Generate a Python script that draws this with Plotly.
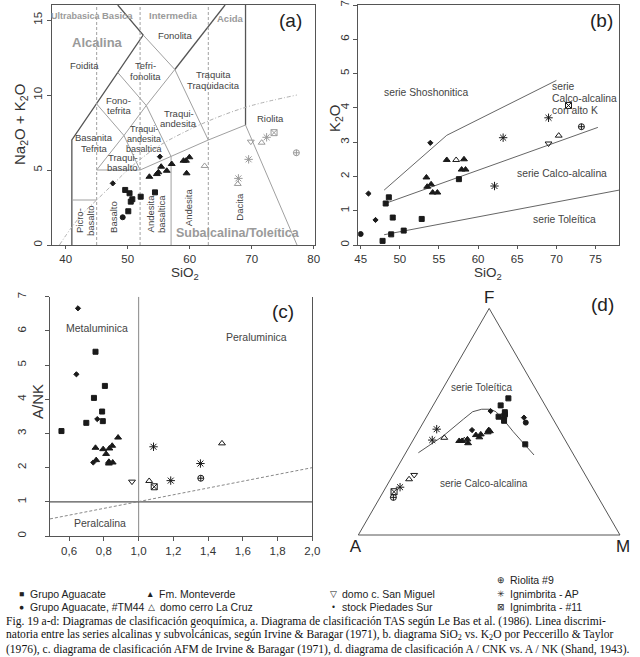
import plotly.graph_objects as go

W, H = 640, 657

# ---------------- (a) TAS diagram data ----------------
tas_aguacate_sio2 = [49.6, 50.3, 50.75, 50.5, 50.1, 52.1, 54.4]
tas_aguacate_alk = [3.67, 3.45, 3.05, 2.89, 2.25, 3.22, 3.51]
tas_tm44_sio2 = [49.2]
tas_tm44_alk = [1.85]
tas_monteverde_sio2 = [53.5, 54.7, 54.95, 55.4, 56.3, 57.1, 59.0, 59.4, 59.95, 59.5]
tas_monteverde_alk = [4.55, 4.73, 4.85, 5.22, 4.95, 5.4, 5.62, 5.62, 5.85, 4.78]
tas_lacruz_sio2 = [62.4, 71.6, 67.75]
tas_lacruz_alk = [5.27, 6.82, 4.07]
tas_sanmiguel_sio2 = [69.85]
tas_sanmiguel_alk = [6.89]
tas_piedades_sio2 = [47.6, 55.2]
tas_piedades_alk = [4.11, 5.89]
tas_riolita_sio2 = [77.2]
tas_riolita_alk = [6.15]
tas_ignap_sio2 = [72.4, 69.5, 67.85]
tas_ignap_alk = [7.18, 5.71, 4.44]
tas_ign11_sio2 = [73.6]
tas_ign11_alk = [7.49]

# ---------------- (b) SiO2 vs K2O data ----------------
k_aguacate_sio2 = [47.8, 48.2, 48.6, 48.9, 49.1, 50.5, 52.8, 57.55]
k_aguacate_k2o = [0.12, 1.21, 1.39, 0.31, 0.80, 0.42, 0.76, 1.92]
k_tm44_sio2 = [45.0]
k_tm44_k2o = [0.32]
k_piedades_sio2 = [46.0, 46.9, 53.9]
k_piedades_k2o = [1.50, 0.73, 2.98]
k_monteverde_sio2 = [53.4, 53.5, 54.0, 54.2, 54.8, 56.0, 58.2, 57.9, 58.4]
k_monteverde_k2o = [1.97, 1.70, 1.77, 1.53, 1.53, 2.48, 2.50, 2.20, 2.20]
k_lacruz_sio2 = [57.2, 70.3]
k_lacruz_k2o = [2.48, 3.19]
k_sanmiguel_sio2 = [69.0]
k_sanmiguel_k2o = [2.96]
k_ignap_sio2 = [62.1, 63.2, 69.0]
k_ignap_k2o = [1.72, 3.13, 3.71]
k_ign11_sio2 = [71.55]
k_ign11_k2o = [4.07]
k_riolita_sio2 = [73.2]
k_riolita_k2o = [3.45]

# ---------------- (c) A/CNK vs A/NK data ----------------
s_aguacate_acnk = [0.752, 0.806, 0.743, 0.790, 0.794, 0.699, 0.556]
s_aguacate_ank = [5.39, 4.39, 4.04, 3.64, 3.36, 3.31, 3.07]
s_piedades_acnk = [0.651, 0.642, 0.762, 0.739]
s_piedades_ank = [6.66, 4.73, 3.42, 2.15]
s_monteverde_acnk = [0.882, 0.752, 0.796, 0.832, 0.848, 0.813, 0.756, 0.829, 0.851, 0.829]
s_monteverde_ank = [2.88, 2.58, 2.54, 2.56, 2.64, 2.40, 2.22, 2.17, 2.15, 2.12]
s_sanmiguel_acnk = [0.962]
s_sanmiguel_ank = [1.59]
s_lacruz_acnk = [1.061, 1.48]
s_lacruz_ank = [1.61, 2.71]
s_ign11_acnk = [1.09]
s_ign11_ank = [1.44]
s_ignap_acnk = [1.086, 1.185, 1.356]
s_ignap_ank = [2.61, 1.62, 2.12]
s_riolita_acnk = [1.358]
s_riolita_ank = [1.69]

# ---------------- (d) AFM data (F, A, M) ----------------
afm_aguacate_f = [0.603, 0.572, 0.542, 0.533, 0.525, 0.522, 0.504, 0.400]
afm_aguacate_a = [0.125, 0.170, 0.169, 0.173, 0.180, 0.203, 0.191, 0.162]
afm_aguacate_m = [0.272, 0.258, 0.289, 0.294, 0.295, 0.275, 0.305, 0.438]
afm_piedades_f = [0.547, 0.463, 0.518]
afm_piedades_a = [0.221, 0.334, 0.108]
afm_piedades_m = [0.232, 0.203, 0.374]
afm_tm44_f = [0.496]
afm_tm44_a = [0.112]
afm_tm44_m = [0.392]
afm_monteverde_f = [0.458, 0.453, 0.463, 0.444, 0.441, 0.431, 0.422, 0.415, 0.415, 0.405]
afm_monteverde_a = [0.268, 0.279, 0.270, 0.310, 0.330, 0.322, 0.372, 0.396, 0.407, 0.378]
afm_monteverde_m = [0.274, 0.268, 0.267, 0.246, 0.229, 0.247, 0.206, 0.189, 0.178, 0.217]
afm_lacruz_f = [0.418, 0.429, 0.246]
afm_lacruz_a = [0.386, 0.457, 0.683]
afm_lacruz_m = [0.196, 0.114, 0.071]
afm_ignap_f = [0.467, 0.419, 0.211]
afm_ignap_a = [0.467, 0.508, 0.735]
afm_ignap_m = [0.066, 0.073, 0.054]
afm_sanmiguel_f = [0.265]
afm_sanmiguel_a = [0.654]
afm_sanmiguel_m = [0.081]
afm_ign11_f = [0.191]
afm_ign11_a = [0.768]
afm_ign11_m = [0.041]
afm_riolita_f = [0.166]
afm_riolita_a = [0.783]
afm_riolita_m = [0.051]

# Irvine & Baragar AFM divide
afm_div_f = [0.363, 0.437, 0.511, 0.544, 0.555, 0.555, 0.544, 0.511, 0.456, 0.397, 0.353]
afm_div_a = [0.589, 0.457, 0.343, 0.291, 0.251, 0.219, 0.202, 0.191, 0.180, 0.164, 0.152]
afm_div_m = [0.048, 0.106, 0.146, 0.165, 0.194, 0.226, 0.254, 0.298, 0.364, 0.439, 0.495]

# ---------------- boundaries ----------------
tas_dark_lines = [
    ([41, 41, 52.5, 48.4], [0, 7, 14, 16]),
    ([57.6, 65.7], [11.7, 16]),
    ([69, 69], [8, 16]),
]
tas_grey_lines = [
    ([41, 45], [3, 3]),
    ([45, 52], [5, 5]),
    ([52, 57, 63, 69], [5, 5.9, 7, 8]),
    ([69, 77.3], [8, 0]),
    ([57, 57], [0, 5.9]),
    ([45, 49.4, 52], [5, 7.3, 5]),
    ([49.4, 53, 57], [7.3, 9.3, 5.9]),
    ([53, 57.6, 63], [9.3, 11.7, 7]),
    ([45, 49.4], [9.4, 7.3]),
    ([48.4, 53], [11.5, 9.3]),
    ([52.5, 57.6], [14, 11.7]),
]
tas_class_sio2 = [45, 52, 63]
ib_sio2 = [39, 41, 43, 45, 48, 50, 52, 55, 60, 65, 70, 77.3]
ib_alk = [0, 1.2, 2.2, 3.0, 4.2, 5.0, 5.7, 6.6, 7.7, 8.6, 9.3, 10.0]

pt_lines = [
    ([48, 78], [0.3, 1.6]),
    ([48, 75.3], [1.2, 3.43]),
    ([48, 56, 70], [1.6, 3.2, 4.8]),
]

legend_names = ["Grupo Aguacate", "Grupo Aguacate, #TM44", "Fm. Monteverde",
                "domo cerro La Cruz", "domo c. San Miguel", "stock Piedades Sur",
                "Riolita #9", "Ignimbrita - AP", "Ignimbrita - #11"]
legend_glyphs = ["■", "●", "▲", "△", "▽", "•", "⊕", "✳", "⊠"]

caption_lines = [
    "Fig. 19 a-d: Diagramas de clasificación geoquímica, a. Diagrama de clasificación TAS según Le Bas et al. (1986). Linea discrimi-",
    "natoria entre las series alcalinas y subvolcánicas, según Irvine &amp; Baragar (1971), b. diagrama SiO<sub>2</sub> vs. K<sub>2</sub>O por Peccerillo &amp; Taylor",
    "(1976), c. diagrama de clasificación AFM de Irvine &amp; Baragar (1971), d. diagrama de clasificación A / CNK vs. A / NK (Shand, 1943).",
]

# ---------------- styles ----------------
DARK = "#1a1a1a"
sty = {
    "Grupo Aguacate": dict(symbol="square", size=5),
    "Grupo Aguacate, #TM44": dict(symbol="circle", size=5),
    "Fm. Monteverde": dict(symbol="triangle-up", size=6),
    "domo cerro La Cruz": dict(symbol="triangle-up-open", size=6),
    "domo c. San Miguel": dict(symbol="triangle-down-open", size=6),
    "stock Piedades Sur": dict(symbol="diamond", size=4),
    "Riolita #9": dict(symbol="circle-cross-open", size=6),
    "Ignimbrita - AP": dict(symbol="asterisk-open", size=7),
    "Ignimbrita - #11": dict(symbol="square-x-open", size=6),
}


def mk(name, color=DARK):
    s = sty[name]
    return dict(symbol=s["symbol"], size=s["size"], color=color,
                line=dict(color=color, width=1))


def px2paper_x(px):
    return px / W


def px2paper_y(py):
    return 1 - py / H


fig = go.Figure()

FONT = "Liberation Sans, Arial, sans-serif"
LGREY = "#9a9a9a"

# ---- (a) boundaries
for xs, ys in tas_dark_lines:
    fig.add_trace(go.Scatter(x=xs, y=ys, mode="lines", line=dict(color="#555", width=1.3),
                             xaxis="x", yaxis="y", showlegend=False, hoverinfo="skip"))
for xs, ys in tas_grey_lines:
    fig.add_trace(go.Scatter(x=xs, y=ys, mode="lines", line=dict(color="#a0a0a0", width=1),
                             xaxis="x", yaxis="y", showlegend=False, hoverinfo="skip"))
for sx in tas_class_sio2:
    fig.add_trace(go.Scatter(x=[sx, sx], y=[0, 16], mode="lines",
                             line=dict(color="#a0a0a0", width=1, dash="3px,2px"),
                             xaxis="x", yaxis="y", showlegend=False, hoverinfo="skip"))
fig.add_trace(go.Scatter(x=ib_sio2, y=ib_alk, mode="lines", line=dict(color="#b0b0b0", width=1, dash="4px,2px,1px,2px"),
                         line_shape="spline", xaxis="x", yaxis="y", showlegend=False, hoverinfo="skip"))

a_sets = [
    ("Grupo Aguacate", tas_aguacate_sio2, tas_aguacate_alk, DARK),
    ("Grupo Aguacate, #TM44", tas_tm44_sio2, tas_tm44_alk, DARK),
    ("Fm. Monteverde", tas_monteverde_sio2, tas_monteverde_alk, DARK),
    ("stock Piedades Sur", tas_piedades_sio2, tas_piedades_alk, DARK),
    ("domo cerro La Cruz", tas_lacruz_sio2, tas_lacruz_alk, LGREY),
    ("domo c. San Miguel", tas_sanmiguel_sio2, tas_sanmiguel_alk, LGREY),
    ("Riolita #9", tas_riolita_sio2, tas_riolita_alk, LGREY),
    ("Ignimbrita - AP", tas_ignap_sio2, tas_ignap_alk, LGREY),
    ("Ignimbrita - #11", tas_ign11_sio2, tas_ign11_alk, LGREY),
]
for name, xs, ys, col in a_sets:
    fig.add_trace(go.Scatter(x=xs, y=ys, mode="markers", marker=mk(name, col), name=name,
                             xaxis="x", yaxis="y", showlegend=False))

# ---- (b)
for xs, ys in pt_lines:
    fig.add_trace(go.Scatter(x=xs, y=ys, mode="lines", line=dict(color="#666", width=1),
                             xaxis="x2", yaxis="y2", showlegend=False, hoverinfo="skip"))
b_sets = [
    ("Grupo Aguacate", k_aguacate_sio2, k_aguacate_k2o),
    ("Grupo Aguacate, #TM44", k_tm44_sio2, k_tm44_k2o),
    ("stock Piedades Sur", k_piedades_sio2, k_piedades_k2o),
    ("Fm. Monteverde", k_monteverde_sio2, k_monteverde_k2o),
    ("domo cerro La Cruz", k_lacruz_sio2, k_lacruz_k2o),
    ("domo c. San Miguel", k_sanmiguel_sio2, k_sanmiguel_k2o),
    ("Ignimbrita - AP", k_ignap_sio2, k_ignap_k2o),
    ("Ignimbrita - #11", k_ign11_sio2, k_ign11_k2o),
    ("Riolita #9", k_riolita_sio2, k_riolita_k2o),
]
for name, xs, ys in b_sets:
    fig.add_trace(go.Scatter(x=xs, y=ys, mode="markers", marker=mk(name), name=name,
                             xaxis="x2", yaxis="y2", showlegend=False))

# ---- (c)
fig.add_trace(go.Scatter(x=[1.0, 1.0], y=[0, 7], mode="lines", line=dict(color="#999", width=1.2),
                         xaxis="x3", yaxis="y3", showlegend=False, hoverinfo="skip"))
fig.add_trace(go.Scatter(x=[0.49, 2.0], y=[1, 1], mode="lines", line=dict(color="#555", width=1.2),
                         xaxis="x3", yaxis="y3", showlegend=False, hoverinfo="skip"))
fig.add_trace(go.Scatter(x=[0.49, 2.0], y=[0.5, 2.0], mode="lines", line=dict(color="#888", width=1, dash="3px,2px"),
                         xaxis="x3", yaxis="y3", showlegend=False, hoverinfo="skip"))
c_sets = [
    ("Grupo Aguacate", s_aguacate_acnk, s_aguacate_ank),
    ("stock Piedades Sur", s_piedades_acnk, s_piedades_ank),
    ("Fm. Monteverde", s_monteverde_acnk, s_monteverde_ank),
    ("domo c. San Miguel", s_sanmiguel_acnk, s_sanmiguel_ank),
    ("domo cerro La Cruz", s_lacruz_acnk, s_lacruz_ank),
    ("Ignimbrita - #11", s_ign11_acnk, s_ign11_ank),
    ("Ignimbrita - AP", s_ignap_acnk, s_ignap_ank),
    ("Riolita #9", s_riolita_acnk, s_riolita_ank),
]
for name, xs, ys in c_sets:
    fig.add_trace(go.Scatter(x=xs, y=ys, mode="markers", marker=mk(name), name=name,
                             xaxis="x3", yaxis="y3", showlegend=False))

# ---- (d) ternary
fig.add_trace(go.Scatterternary(a=afm_div_f, b=afm_div_a, c=afm_div_m, mode="lines",
                                line=dict(color="#555", width=1), subplot="ternary",
                                showlegend=False, hoverinfo="skip"))
d_sets = [
    ("Grupo Aguacate", afm_aguacate_f, afm_aguacate_a, afm_aguacate_m),
    ("stock Piedades Sur", afm_piedades_f, afm_piedades_a, afm_piedades_m),
    ("Grupo Aguacate, #TM44", afm_tm44_f, afm_tm44_a, afm_tm44_m),
    ("Fm. Monteverde", afm_monteverde_f, afm_monteverde_a, afm_monteverde_m),
    ("domo cerro La Cruz", afm_lacruz_f, afm_lacruz_a, afm_lacruz_m),
    ("Ignimbrita - AP", afm_ignap_f, afm_ignap_a, afm_ignap_m),
    ("domo c. San Miguel", afm_sanmiguel_f, afm_sanmiguel_a, afm_sanmiguel_m),
    ("Ignimbrita - #11", afm_ign11_f, afm_ign11_a, afm_ign11_m),
    ("Riolita #9", afm_riolita_f, afm_riolita_a, afm_riolita_m),
]
for name, fa, aa, ma in d_sets:
    fig.add_trace(go.Scatterternary(a=fa, b=aa, c=ma, mode="markers", marker=mk(name), name=name,
                                    subplot="ternary", showlegend=False))

# ---------------- axes ----------------
tickfont = dict(family=FONT, size=11.5, color="#333")
axcommon = dict(showgrid=False, zeroline=False, showline=True, linecolor="#555", linewidth=1,
                ticks="outside", tickcolor="#555", tickfont=tickfont, automargin=False)

ya_dom = [px2paper_y(245), px2paper_y(5)]
yc_dom = [px2paper_y(536), px2paper_y(296.7)]

fig.update_layout(
    xaxis=dict(domain=[px2paper_x(52), px2paper_x(315)], range=[37.8, 80.2], tickvals=[40, 50, 60, 70, 80],
               mirror=True, anchor="y", ticklen=3, **axcommon),
    yaxis=dict(domain=ya_dom, range=[0, 16], tickvals=[0, 5, 10, 15], tickangle=-90,
               mirror=True, anchor="x", ticklen=4, **axcommon),
    xaxis2=dict(domain=[px2paper_x(358.3), px2paper_x(619)], range=[44.7, 78], tickvals=[45, 50, 55, 60, 65, 70, 75],
                mirror=True, anchor="y2", ticklen=3, **axcommon),
    yaxis2=dict(domain=ya_dom, range=[0, 7], tickvals=list(range(8)), tickangle=-90,
                mirror=True, anchor="x2", ticklen=4, **axcommon),
    xaxis3=dict(domain=[px2paper_x(50), px2paper_x(312.3)], range=[0.49, 2.0],
                tickvals=[0.6, 0.8, 1.0, 1.2, 1.4, 1.6, 1.8, 2.0],
                ticktext=["0,6", "0,8", "1,0", "1,2", "1,4", "1,6", "1,8", "2,0"],
                anchor="y3", ticklen=4, **axcommon),
    yaxis3=dict(domain=yc_dom, range=[0, 7], tickvals=list(range(8)), tickangle=-90,
                mirror=True, anchor="x3", ticklen=4, ticklabelstandoff=14, **axcommon),
    ternary=dict(
        domain=dict(x=[px2paper_x(358.3), px2paper_x(620)], y=[px2paper_y(535), px2paper_y(308.4)]),
        sum=1, bgcolor="white",
        aaxis=dict(title=dict(text="F", font=dict(family=FONT, size=17, color="#222")),
                   showticklabels=False, ticks="", showgrid=False, linecolor="#555", linewidth=1),
        baxis=dict(title=dict(text="A", font=dict(family=FONT, size=17, color="#222")),
                   showticklabels=False, ticks="", showgrid=False, linecolor="#555", linewidth=1),
        caxis=dict(title=dict(text="M", font=dict(family=FONT, size=17, color="#222")),
                   showticklabels=False, ticks="", showgrid=False, linecolor="#555", linewidth=1),
    ),
    width=W, height=H, margin=dict(l=0, r=0, t=0, b=0, autoexpand=False),
    paper_bgcolor="white", plot_bgcolor="white", showlegend=False,
    font=dict(family=FONT, color="#333"),
)

ann = []


def A(text, x, y, xref, yref, size=10, color="#444", angle=0, xanchor="center", bold=False,
      family=FONT, align="center", xshift=0, yshift=0):
    if bold:
        text = "<b>" + text + "</b>"
    ann.append(dict(text=text, x=x, y=y, xref=xref, yref=yref, showarrow=False, textangle=angle,
                    font=dict(family=family, size=size, color=color), xanchor=xanchor, yanchor="middle",
                    align=align, xshift=xshift, yshift=yshift))


def ML(lines, x, y, xref, yref, size=9.5, sp=10.5, angle=0, xanchor="center", color="#444"):
    n = len(lines)
    for i, t in enumerate(lines):
        off = ((n - 1) / 2 - i) * sp
        if angle == 0:
            A(t, x, y, xref, yref, size, color, xanchor=xanchor, yshift=off)
        else:
            A(t, x, y, xref, yref, size, color, angle=angle, xshift=-off)


# (a) labels
A("Ultrabasica", 41.6, 15.3, "x", "y", 9, LGREY, bold=True)
A("Basica", 48.4, 15.3, "x", "y", 9.5, LGREY, bold=True)
A("Intermedia", 57.4, 15.3, "x", "y", 9.5, LGREY, bold=True)
A("Acida", 66.5, 15.1, "x", "y", 9.5, LGREY, bold=True)
A("(a)", 76.3, 15.0, "x", "y", 19, "#222")
A("Alcalina", 45.1, 13.5, "x", "y", 13, LGREY, bold=True)
A("Fonolita", 57.7, 14.0, "x", "y", 9.5)
A("Foidita", 43.0, 12.0, "x", "y", 9.5)
ML(["Tefri-", "fonolita"], 52.8, 11.6, "x", "y")
ML(["Traquita", "Traquidacita"], 63.8, 11.0, "x", "y")
ML(["Fono-", "tefrita"], 48.6, 9.3, "x", "y")
ML(["Traqui-", "andesita"], 58.2, 8.45, "x", "y")
A("Riolita", 73.0, 8.45, "x", "y", 9.5)
ML(["Basanita", "Tefrita"], 44.6, 6.8, "x", "y")
ML(["Traqui-", "andesita", "basaltica"], 52.7, 7.05, "x", "y", size=9, sp=10)
ML(["Traqui-", "basalto"], 49.2, 5.5, "x", "y", size=9.5, sp=10)
ML(["Picro-", "basalto"], 43.0, 1.65, "x", "y", angle=-90, sp=11)
A("Basalto", 47.7, 1.9, "x", "y", 9.5, angle=-90)
ML(["Andesita", "basaltica"], 54.6, 2.1, "x", "y", angle=-90, sp=10.5)
A("Andesita", 59.8, 2.55, "x", "y", 9.5, angle=-90)
A("Dacita", 68.1, 2.55, "x", "y", 9.5, angle=-90)
A("Subalcalina/Toleítica", 67.8, 0.8, "x", "y", 12.5, LGREY, bold=True)

# (a) axis titles
A("SiO<sub>2</sub>", px2paper_x(185), px2paper_y(273), "paper", "paper", 13.5, "#333")
A("Na<sub>2</sub>O + K<sub>2</sub>O", px2paper_x(20), px2paper_y(125), "paper", "paper", 15, "#333", angle=-90)

# (b) labels
A("serie Shoshonitica", 53.3, 4.44, "x2", "y2", 10.3)
ML(["serie", "Calco-alcalina", "con alto K"], 69.2, 4.26, "x2", "y2", size=10.3, sp=12, xanchor="left")
A("serie Calco-alcalina", 70.7, 2.09, "x2", "y2", 10.3)
A("serie Toleítica", 71.1, 0.75, "x2", "y2", 10.3)
A("(b)", 75.8, 6.56, "x2", "y2", 19, "#222")
A("SiO<sub>2</sub>", px2paper_x(488), px2paper_y(273), "paper", "paper", 13.5, "#333")
A("K<sub>2</sub>O", px2paper_x(335), px2paper_y(118), "paper", "paper", 15, "#333", angle=-90)

# (c) labels
A("Metaluminica", 0.762, 6.07, "x3", "y3", 10.5)
A("Peraluminica", 1.68, 5.83, "x3", "y3", 10.5)
A("Peralcalina", 0.78, 0.37, "x3", "y3", 10.5)
A("(c)", 1.83, 6.56, "x3", "y3", 19, "#222")
A("A/NK", px2paper_x(37), px2paper_y(402), "paper", "paper", 15, "#333", angle=-90)

# (d) labels
A("serie Toleítica", px2paper_x(481), px2paper_y(387.5), "paper", "paper", 10)
A("serie Calco-alcalina", px2paper_x(484), px2paper_y(483), "paper", "paper", 10)
A("(d)", px2paper_x(602), px2paper_y(304), "paper", "paper", 19, "#222")

# legend (text)
leg_pos = {
    "Grupo Aguacate": (18, 594), "Grupo Aguacate, #TM44": (18, 607),
    "Fm. Monteverde": (147, 594), "domo cerro La Cruz": (148, 607),
    "domo c. San Miguel": (330, 594), "stock Piedades Sur": (330, 607),
    "Riolita #9": (498, 580), "Ignimbrita - AP": (498, 594), "Ignimbrita - #11": (498, 607),
}
for name, glyph in zip(legend_names, legend_glyphs):
    lx, ly = leg_pos[name]
    A(glyph, px2paper_x(lx + 3), px2paper_y(ly), "paper", "paper", 8.5, "#222")
    A(name, px2paper_x(lx + 10), px2paper_y(ly), "paper", "paper", 10.5, "#222", xanchor="left")

# caption
for i, line in enumerate(caption_lines):
    A(line, px2paper_x(4), px2paper_y(621 + 14 * i), "paper", "paper", 11.55, "#111",
      xanchor="left", family="Liberation Serif, Times New Roman, serif", align="left")

fig.update_layout(annotations=ann)
fig.write_html("out.html", config={"displayModeBar": False},
               post_script="document.body.style.margin='0px';document.body.style.padding='0px';")
